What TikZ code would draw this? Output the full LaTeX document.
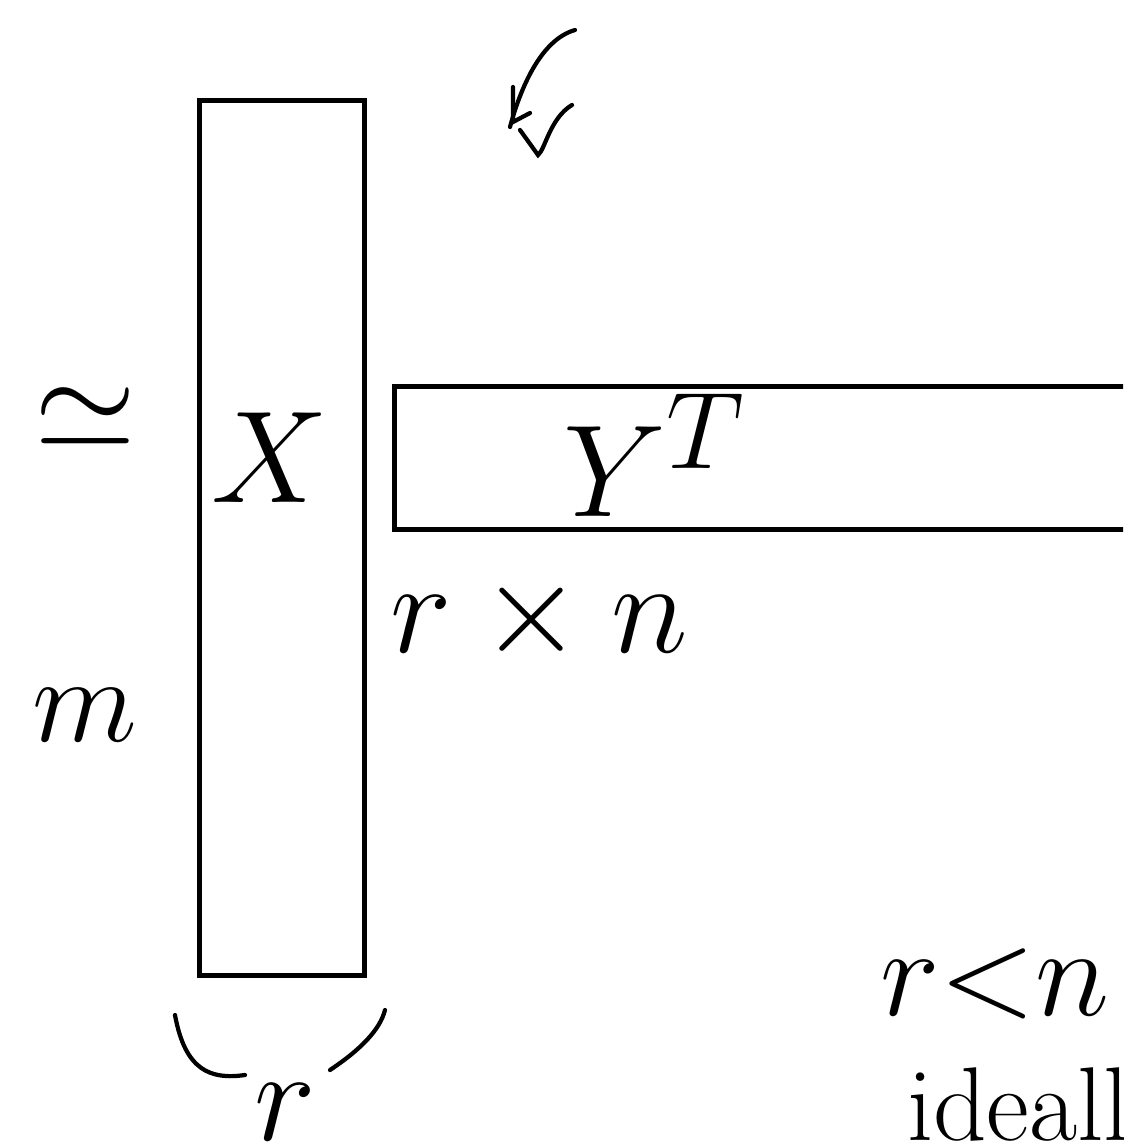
\documentclass[tikz,border=0pt]{standalone}
\newcommand{\hand}[2][3]{\scalebox{#1}{#2}}
\begin{document}
\begin{tikzpicture}[x=0.02cm,y=-0.02cm,line width=2.4pt,line cap=round,
    lbl/.style={font=\Huge,inner sep=0pt}]
  \useasboundingbox (0,0) rectangle (1123,1145);
  \clip (0,0) rectangle (1123,1145);
  % Matrizes
  \node[draw,minimum width=3.3cm,minimum height=17.5cm] (X) at (282,538) {};
  \node[draw,minimum width=16.1cm,minimum height=2.86cm] (Y) at (797,458) {};
  \node[lbl] (xname) at (270,458) {\hand[3]{$X$}};
  \node[lbl] (yname) at (655,455) {\hand[3]{$Y^T$}};
  \node[lbl] (approx) at (85,418) {\hand{$\simeq$}};
  \node[lbl] (m) at (85,715) {\hand[2.8]{$m$}};
  \node[lbl,anchor=base west] (dims) at (388,652) {\hand{$r\times n$}};
  % chave
  \draw (175,1015) .. controls (185,1070) and (210,1080) .. (245,1075);
  \draw (330,1070) .. controls (360,1050) and (380,1030) .. (385,1010);
  \node[lbl,anchor=base] (rdim) at (285,1140) {\hand{$r$}};
  % seta
  \draw (575,30) .. controls (540,40) and (520,90) .. (510,127);
  \draw (513,87) -- (513,122) -- (530,113);
  \draw (572,105) .. controls (550,118) and (545,150) .. (538,155) -- (520,130);
  \node[lbl,anchor=base west] (cond) at (878,1015) {\hand[2.9]{$r{<}n$}};
  \node[lbl,anchor=base west] (ideal) at (905,1140) {\hand[2.4]{ideally}};
\end{tikzpicture}
\end{document}
